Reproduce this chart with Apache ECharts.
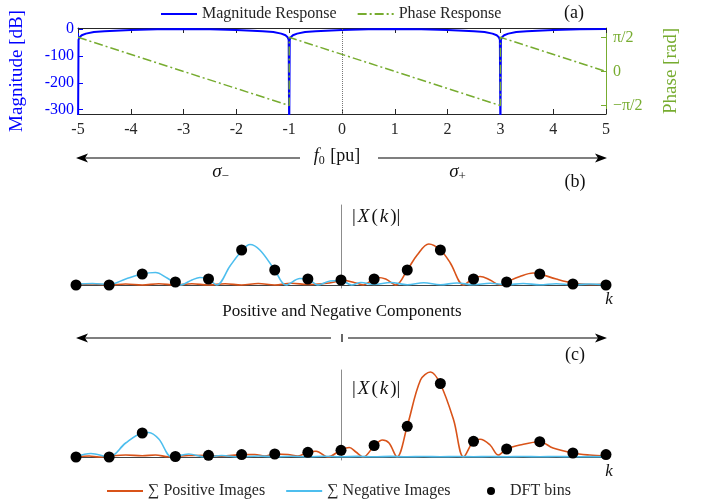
<!DOCTYPE html>
<html>
<head>
<meta charset="utf-8">
<script src="https://cdn.jsdelivr.net/npm/echarts@6/dist/echarts.min.js"></script>
<style>
html, body { margin: 0; padding: 0; background: #fff; }
#chart { width: 702px; height: 502px; }
</style>
</head>
<body>
<div id="chart"></div>
<script>
// (a) filter response vs f0 [pu]
const magF = [-5, -4.99, -4.97, -4.93, -4.85, -4.7, -4.5, -4.2, -4, -3.5, -3, -2.5, -2, -1.8, -1.5, -1.3, -1.15, -1.07, -1.03, -1.01, -1,
  -0.99, -0.97, -0.93, -0.85, -0.7, -0.5, -0.2, 0, 0.5, 1, 1.5, 2, 2.2, 2.5, 2.7, 2.85, 2.93, 2.97, 2.99, 3,
  3.01, 3.03, 3.07, 3.15, 3.3, 3.5, 3.8, 4, 4.5, 5];
const magDb = [-400, -40, -30, -23, -17, -11, -8, -5, -3, -0.7, 0, -0.7, -3, -5, -8, -11, -17, -23, -30, -40, -400,
  -40, -30, -23, -17, -11, -8, -5, -3, -0.7, 0, -0.7, -3, -5, -8, -11, -17, -23, -30, -40, -400,
  -40, -30, -23, -17, -11, -8, -5, -3, -0.7, 0];
const phaseF = [-5, -1, -1, 3, 3, 5];
const phaseRad = [1.571, -1.571, 1.571, -1.571, 1.571, 0];
const magTicks = [0, -100, -200, -300];
const phaseTicks = [-1.5708, 0, 1.5708];

// (b), (c) DFT bins
const bins = [-8, -7, -6, -5, -4, -3, -2, -1, 0, 1, 2, 3, 4, 5, 6, 7, 8];
const binsB = [0, 0, 11, 3, 6, 35, 15, 6, 5, 6, 15, 35, 6, 3, 11, 1, 0];
const binsC = [0, 0, 24, 0.5, 1.7, 2.4, 3, 4.7, 6.7, 11.5, 30.7, 73.5, 15.7, 8, 15.3, 4, 2.4];

const posBk = [-8, -7.5, -7, -6.5, -6, -5.5, -5, -4.5, -4, -3.5, -3, -2.5, -2, -1.5, -1, -0.5, -0.2, 0, 0.15, 0.45,
  0.67, 0.9, 1.1, 1.35, 1.66, 2, 2.3, 2.65, 3, 3.3, 3.7, 4, 4.2, 4.5, 4.8, 5, 5.4, 5.8, 6, 6.5, 7, 7.5, 8];
const posBv = [0.5, 1, 0, 1, 0, 1.2, 0, 1.2, 0, 1.3, 0, 1.5, 0, 1.8, 0.5, 1.5, 3, 5, 4.5, 2,
  0, 4, 7.5, 6, 0, 15, 30, 41, 35, 22, 0, 7, 8.5, 5, 0, 3, 8.5, 12, 11, 6, 2, 0.5, 1];
const negBk = [-8, -7.5, -7, -6.5, -6, -5.6, -5.25, -4.86, -4.5, -4.26, -4, -3.75, -3.35, -3, -2.75, -2.45, -2, -1.66, -1.24, -1,
  -0.7, -0.33, 0, 0.32, 0.6, 1, 1.5, 2, 2.5, 3, 3.5, 4, 4.5, 5, 5.5, 6, 6.5, 7, 7.5, 8];
const negBv = [1, 1.5, 0.5, 6, 11, 12.5, 7, 0, 5, 7.5, 6, 0, 19, 34, 40.5, 35, 15, 0, 6.5, 6,
  0, 4, 4.5, 0, 2.5, 0.5, 2.5, 0.3, 2.2, 0.3, 2, 0.2, 1.7, 0.2, 1.5, 0.2, 1.2, 0.2, 1, 0.3];

const posCk = [-8, -7.6, -7.3, -7, -6.5, -6, -5.6, -5.2, -5, -4.6, -4, -3.6, -3, -2.6, -2.3, -2, -1.6, -1.3, -1, -0.75,
  -0.4, 0, 0.25, 0.45, 0.67, 1, 1.25, 1.45, 1.69, 2, 2.4, 2.7, 3, 3.4, 3.7, 4, 4.2, 4.5, 4.75, 5,
  5.4, 6, 6.4, 7, 7.5, 8];
const posCv = [0.5, 1, 0, 1, 2, 1.2, 2, 0.3, 0.5, 1.5, 1.8, 0.8, 2.4, 2.5, 1, 3, 2.5, 1, 4.7, 5.8,
  0, 7, 9.5, 5, 0, 11, 17, 14, 0, 31, 77, 85, 73, 37, 0, 16, 17.7, 12, 2, 8,
  12, 15.3, 9, 4, 2, 1];
const negCk = [-8, -7.55, -7, -6.5, -6, -5.8, -5.5, -5.1, -4.6, -4.1, -3.6, -3.1, -2.5, -2, -1.5, -1, -0.5, 0, 0.5, 1,
  1.5, 2, 2.5, 3, 3.5, 4, 4.5, 5, 5.5, 6, 6.5, 7, 7.5, 8];
const negCv = [0.5, 3.5, 0, 14, 24, 24.5, 18, 0, 3, 0, 1.5, 0, 1, 0.2, 0.8, 0.2, 0.8, 0.2, 0.6, 0.2,
  0.6, 0.2, 0.5, 0.2, 0.5, 0.2, 0.5, 0.2, 0.5, 0.2, 0.5, 0.2, 0.4, 0.2];

const BLUE = '#0000FF', GREEN = '#77AC30', ORANGE = '#D95319', CYAN = '#4DBEEE', INK = '#262626';
const SERIF = '"Liberation Serif", "DejaVu Serif", serif';

const zip = (xs, ys) => xs.map((x, i) => [x, ys[i]]);

const chart = echarts.init(document.getElementById('chart'));

function plainX(grid) {
  return {
    gridIndex: grid, type: 'value', min: -8, max: 8,
    axisLine: { onZero: true, lineStyle: { color: '#444', width: 1 } },
    axisTick: { show: false }, axisLabel: { show: false }, splitLine: { show: false }
  };
}
function plainY(grid, max) {
  return {
    gridIndex: grid, type: 'value', min: -3, max: max,
    axisLine: { show: true, onZero: true, lineStyle: { color: '#8c8c8c', width: 1 } },
    axisTick: { show: false }, axisLabel: { show: false }, splitLine: { show: false }
  };
}
function curve(name, xi, k, v, color) {
  return {
    name: name, type: 'line', xAxisIndex: xi, yAxisIndex: xi, symbol: 'none', smooth: 0.35,
    lineStyle: { color: color, width: 1.6 }, itemStyle: { color: color },
    data: zip(k, v)
  };
}
function dots(xi, v) {
  return {
    name: 'DFT bins', type: 'scatter', xAxisIndex: xi, yAxisIndex: xi, symbolSize: 11, clip: false,
    itemStyle: { color: '#000', opacity: 1 }, z: 5, data: zip(bins, v)
  };
}

function txt(text, x, y, size, opts) {
  return {
    type: 'text', x: x, y: y, silent: true,
    style: Object.assign({ text: text, fill: '#111', font: size + 'px ' + SERIF, align: 'center', verticalAlign: 'middle' }, opts || {})
  };
}
function seg(x1, y1, x2, y2) {
  return { type: 'line', silent: true, shape: { x1: x1, y1: y1, x2: x2, y2: y2 }, style: { stroke: '#000', lineWidth: 1.2 } };
}
function head(x, y, dir) {
  return {
    type: 'polygon', silent: true,
    shape: { points: [[x, y], [x - dir * 12, y - 4.5], [x - dir * 9, y], [x - dir * 12, y + 4.5]] },
    style: { fill: '#000' }
  };
}
const xk = {
  n: { font: '19px ' + SERIF, fill: '#111', padding: [0, 1, 0, 1] },
  i: { font: 'italic 19px ' + SERIF, fill: '#111', padding: [0, 1, 0, 1] }
};
const sub = (size) => ({
  i: { font: 'italic ' + size + 'px ' + SERIF, fill: '#111' },
  s: { font: Math.round(size * 0.68) + 'px ' + SERIF, fill: '#111', padding: [Math.round(size * 0.5), 1, 0, 0] },
  n: { font: size + 'px ' + SERIF, fill: '#111' }
});
const noSym = { opacity: 0 };
const legendText = { fontFamily: SERIF, fontSize: 16, color: INK };

const option = {
  animation: false,
  grid: [
    { left: 76, width: 530, top: 28, height: 86 },
    { left: 76, width: 530, top: 205, height: 83 },
    { left: 76, width: 530, top: 370, height: 90 }
  ],
  legend: [
    {
      data: [{ name: 'Magnitude Response', itemStyle: noSym }, { name: 'Phase Response', itemStyle: noSym }],
      left: 155, top: 1, itemWidth: 36, itemHeight: 10, itemGap: 20, textStyle: legendText
    },
    {
      data: [{ name: '∑ Positive Images', itemStyle: noSym }, { name: '∑ Negative Images', itemStyle: noSym }],
      left: 101, top: 478, itemWidth: 36, itemHeight: 10, itemGap: 20, textStyle: legendText
    },
    {
      data: ['DFT bins'], left: 482, top: 478, itemWidth: 12, itemHeight: 8,
      textStyle: Object.assign({ padding: [0, 0, 0, 8] }, legendText)
    }
  ],
  xAxis: [
    {
      gridIndex: 0, type: 'value', min: -5, max: 5, interval: 1,
      axisLine: { onZero: false, lineStyle: { color: INK } },
      axisTick: { inside: true, length: 5, lineStyle: { color: INK } },
      axisLabel: { fontFamily: SERIF, fontSize: 16, color: INK, margin: 8 },
      splitLine: { show: false }
    },
    {
      gridIndex: 0, type: 'value', min: -5, max: 5, interval: 1, position: 'top',
      axisLine: { onZero: false, lineStyle: { color: INK } },
      axisTick: { inside: true, length: 5, lineStyle: { color: INK } },
      axisLabel: { show: false }, splitLine: { show: false }
    },
    plainX(1), plainX(2)
  ],
  yAxis: [
    {
      gridIndex: 0, type: 'value', min: -316, max: 4,
      axisLine: { show: true, onZero: false, lineStyle: { color: BLUE } },
      axisTick: { inside: true, length: 5, customValues: magTicks, lineStyle: { color: BLUE } },
      axisLabel: { customValues: magTicks, fontFamily: SERIF, fontSize: 16, color: BLUE, margin: 4 },
      splitLine: { show: false },
      name: 'Magnitude [dB]', nameLocation: 'middle', nameRotate: 90, nameGap: 51,
      nameTextStyle: { fontFamily: SERIF, fontSize: 19, color: BLUE }
    },
    {
      gridIndex: 0, type: 'value', min: -1.96, max: 2.0, position: 'right',
      axisLine: { show: true, onZero: false, lineStyle: { color: GREEN } },
      axisTick: { inside: true, length: 5, customValues: phaseTicks, lineStyle: { color: GREEN } },
      axisLabel: {
        customValues: phaseTicks, fontFamily: SERIF, fontSize: 16, color: GREEN, margin: 7,
        formatter: v => (v > 0.1 ? 'π/2' : v < -0.1 ? '−π/2' : '0')
      },
      splitLine: { show: false },
      name: 'Phase [rad]', nameLocation: 'middle', nameRotate: 90, nameGap: 56,
      nameTextStyle: { fontFamily: SERIF, fontSize: 19, color: GREEN }
    },
    plainY(1, 80), plainY(2, 87)
  ],
  series: [
    {
      name: 'Magnitude Response', type: 'line', xAxisIndex: 0, yAxisIndex: 0, symbol: 'none',
      lineStyle: { color: BLUE, width: 2 }, itemStyle: { color: BLUE },
      data: zip(magF, magDb),
      markLine: {
        silent: true, symbol: 'none', label: { show: false },
        lineStyle: { color: '#777', type: 'dotted', width: 1 },
        data: [{ xAxis: 0 }]
      }
    },
    {
      name: 'Phase Response', type: 'line', xAxisIndex: 0, yAxisIndex: 1, symbol: 'none', z: 3,
      lineStyle: { color: GREEN, width: 1.5, type: [9, 3, 2, 3] }, itemStyle: { color: GREEN },
      data: zip(phaseF, phaseRad)
    },
    curve('∑ Positive Images', 2, posBk, posBv, ORANGE),
    curve('∑ Negative Images', 2, negBk, negBv, CYAN),
    dots(2, binsB),
    curve('∑ Positive Images', 3, posCk, posCv, ORANGE),
    curve('∑ Negative Images', 3, negCk, negCv, CYAN),
    dots(3, binsC)
  ],
  graphic: [
    txt('(a)', 574, 13, 18),
    txt('(b)', 575, 182, 18),
    txt('(c)', 575, 355, 18),
    seg(80, 158, 300, 158), seg(378, 158, 603, 158),
    head(76, 158, -1), head(607, 158, 1),
    txt('{i|f}{s|0}{n| [pu]}', 337, 156, 18, { rich: sub(18) }),
    txt('{i|σ}{s|−}', 221, 172, 19, { rich: sub(19) }),
    txt('{i|σ}{s|+}', 458, 172, 19, { rich: sub(19) }),
    txt('Positive and Negative Components', 342, 312, 17),
    seg(80, 338, 331, 338), seg(348, 338, 603, 338), seg(342, 334, 342, 342),
    head(76, 338, -1), head(607, 338, 1),
    txt('k', 609, 300, 17, { font: 'italic 17px ' + SERIF }),
    txt('k', 609, 472, 17, { font: 'italic 17px ' + SERIF }),
    txt('{n||}{i|X}{n|(}{i|k}{n|)|}', 351, 217, 19, { align: 'left', rich: xk }),
    txt('{n||}{i|X}{n|(}{i|k}{n|)|}', 351, 389, 19, { align: 'left', rich: xk })
  ]
};

chart.setOption(option);
</script>
</body>
</html>
